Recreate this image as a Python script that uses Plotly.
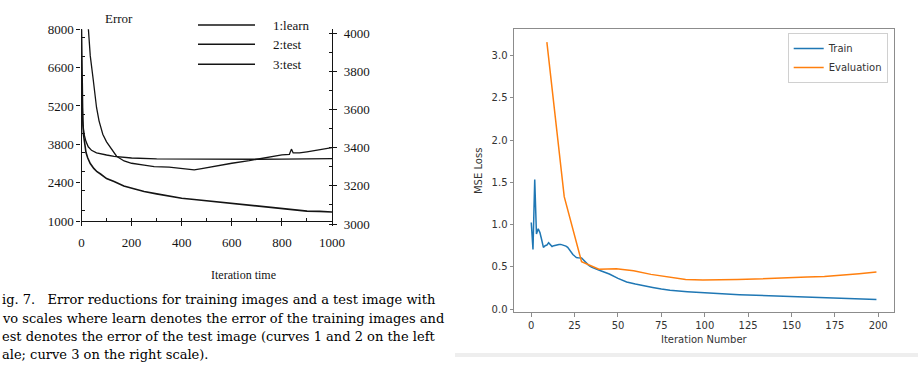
import plotly.graph_objects as go

W, H = 918, 369

# ---------------- Left (scanned) figure data ----------------
learn_iter = [0, 2, 5, 8, 12, 18, 25, 35, 49, 62, 76, 100, 130, 169, 209, 250, 300, 350, 400,
              450, 500, 550, 600, 650, 700, 750, 800, 850, 900, 950, 1000]
learn_err = [8000, 5600, 4700, 4150, 3800, 3500, 3300, 3100, 2920, 2800, 2716, 2550, 2440, 2280, 2180,
             2080, 1990, 1900, 1830, 1785, 1740, 1690, 1640, 1595, 1550, 1500, 1450, 1400, 1360, 1350, 1330]

test2_iter = [0, 3, 6, 11, 18, 27, 40, 60, 80, 100, 130, 167, 200, 300, 400, 500, 600, 700, 800, 900, 1000]
test2_err = [6000, 5000, 4500, 4140, 3900, 3710, 3580, 3490, 3440, 3410, 3360, 3325, 3300, 3270, 3260,
             3255, 3255, 3255, 3260, 3270, 3275]

test3_iter = [27, 35, 47, 60, 70, 85, 100, 120, 140, 170, 200, 250, 290, 350, 400, 450, 480, 540, 600,
              670, 740, 800, 830, 838, 845, 870, 900, 950, 1000]
test3_err = [4030, 3880, 3754, 3610, 3540, 3470, 3430, 3390, 3355, 3330, 3318, 3308, 3300, 3298, 3292,
             3283, 3290, 3305, 3318, 3332, 3350, 3362, 3365, 3392, 3372, 3372, 3378, 3388, 3400]

left_legend = ["1:learn", "2:test", "3:test"]
caption_lines = [
    "ig. 7.\u00a0\u00a0\u00a0Error reductions for training images and a test image with",
    "vo scales where learn denotes the error of the training images and",
    "est denotes the error of the test image (curves 1 and 2 on the left",
    "ale; curve 3 on the right scale).",
]

# ---------------- Right (matplotlib) figure data ----------------
train_iter = list(range(0, 36)) + [40, 45, 50, 55, 60, 65, 70, 75, 80, 90, 100, 110, 120, 130,
                                   140, 150, 160, 170, 180, 190, 199]
train_loss = [1.025, 0.705, 1.533, 0.887, 0.95, 0.905, 0.82, 0.73, 0.75, 0.757,
              0.785, 0.757, 0.74, 0.75, 0.757, 0.76, 0.765, 0.765, 0.76, 0.753,
              0.745, 0.73, 0.70, 0.674, 0.646, 0.627, 0.61, 0.607, 0.607, 0.603,
              0.583, 0.56, 0.54, 0.52, 0.505, 0.493,
              0.453, 0.414, 0.363, 0.32, 0.296, 0.272, 0.256, 0.237, 0.221, 0.205, 0.19,
              0.181, 0.17, 0.162, 0.154, 0.15, 0.142, 0.134, 0.126, 0.118, 0.114]

eval_iter = [9, 19, 29, 39, 49, 59, 69, 79, 89, 99, 109, 119, 129, 139, 149, 159, 169, 179, 189, 199]
eval_loss = [3.16, 1.33, 0.56, 0.47, 0.477, 0.453, 0.41, 0.38, 0.35, 0.343, 0.343, 0.35, 0.355,
             0.36, 0.37, 0.378, 0.386, 0.40, 0.418, 0.437]


def px(x):
    return x / W


def py(y):
    return 1 - y / H


SERIF = "Liberation Serif"
SANS = "DejaVu Sans"
INK = "#141414"

fig = go.Figure()

# left scanned chart curves
fig.add_trace(go.Scatter(x=learn_iter, y=learn_err, mode="lines", xaxis="x", yaxis="y",
                         line=dict(color=INK, width=1.6), showlegend=False, name="1:learn"))
fig.add_trace(go.Scatter(x=test2_iter, y=test2_err, mode="lines", xaxis="x", yaxis="y",
                         line=dict(color=INK, width=1.3), showlegend=False, name="2:test"))
fig.add_trace(go.Scatter(x=test3_iter, y=test3_err, mode="lines", xaxis="x3", yaxis="y2",
                         line=dict(color=INK, width=1.3), showlegend=False, name="3:test"))

# right matplotlib chart
fig.add_trace(go.Scatter(x=train_iter, y=train_loss, mode="lines", xaxis="x2", yaxis="y3",
                         line=dict(color="#1f77b4", width=1.5), name="Train"))
fig.add_trace(go.Scatter(x=eval_iter, y=eval_loss, mode="lines", xaxis="x2", yaxis="y3",
                         line=dict(color="#ff7f0e", width=1.5), name="Evaluation"))

left_dom_x = [px(81.5), px(332)]
scan_font = dict(family=SERIF, size=13, color=INK)

mpl_line = "#8c8c8c"
mpl_font = dict(family=SANS, size=10, color="#333333")

fig.update_layout(
    width=W, height=H,
    margin=dict(l=0, r=0, t=0, b=0, pad=0, autoexpand=False),
    paper_bgcolor="white", plot_bgcolor="rgba(0,0,0,0)",
    showlegend=True,
    legend=dict(x=px(887.7), y=py(33), xanchor="right", yanchor="top",
                bgcolor="white", bordercolor="#d0d0d0", borderwidth=1,
                font=dict(family=SANS, size=10, color="#333333"), itemwidth=30,
                tracegroupgap=0),
    xaxis=dict(domain=left_dom_x, range=[0, 1000], anchor="y", automargin=False,
               showline=True, linecolor=INK, linewidth=1.4, showgrid=False, zeroline=False,
               tickmode="linear", tick0=0, dtick=200, ticks="outside", ticklen=4,
               tickcolor=INK, tickwidth=1.2, tickfont=scan_font, ticklabelstandoff=5,
               minor=dict(ticks="inside", ticklen=3, dtick=100, tickcolor=INK, tickwidth=1)),
    yaxis=dict(domain=[py(221), py(29.3)], range=[1000, 8000], anchor="x", automargin=False,
               showline=True, linecolor=INK, linewidth=1.4, showgrid=False, zeroline=False,
               tickmode="linear", tick0=1000, dtick=1400, ticks="outside", ticklen=4,
               tickcolor=INK, tickwidth=1.2, tickfont=scan_font,
               minor=dict(ticks="inside", ticklen=3, dtick=700, tickcolor=INK, tickwidth=1)),
    xaxis3=dict(domain=left_dom_x, range=[0, 1000], anchor="y2", visible=False, automargin=False),
    yaxis2=dict(domain=[py(226), py(29.3)], range=[3000 - 2 / 0.191, 4000 + 3.7 / 0.191],
                anchor="x3", side="right", automargin=False,
                showline=True, linecolor=INK, linewidth=1.4, showgrid=False, zeroline=False,
                tickmode="linear", tick0=3000, dtick=200, ticks="outside", ticklen=4,
                tickcolor=INK, tickwidth=1.2, tickfont=scan_font, ticklabelstandoff=4,
                minor=dict(ticks="inside", ticklen=3, dtick=100, tickcolor=INK, tickwidth=1)),
    xaxis2=dict(domain=[px(514), px(893.7)], range=[-9.95, 208.95], anchor="y3", automargin=False,
                showline=True, mirror=True, linecolor=mpl_line, linewidth=1,
                showgrid=False, zeroline=False,
                tickmode="linear", tick0=0, dtick=25, ticks="outside", ticklen=3.5,
                tickcolor=mpl_line, tickfont=mpl_font,
                title=dict(text="Iteration Number", font=mpl_font, standoff=6)),
    yaxis3=dict(domain=[py(312.3), py(29.3)], range=[-0.039, 3.312], anchor="x2", automargin=False,
                showline=True, mirror=True, linecolor=mpl_line, linewidth=1,
                showgrid=False, zeroline=False,
                tickmode="linear", tick0=0, dtick=0.5, tickformat=".1f",
                ticks="outside", ticklen=3.5, tickcolor=mpl_line, tickfont=mpl_font,
                title=dict(text="MSE Loss", font=mpl_font, standoff=7)),
)

annotations = []
shapes = []

# "Error" label
annotations.append(dict(text="Error", x=px(103), y=py(19), xref="paper", yref="paper",
                        xanchor="left", yanchor="middle", showarrow=False,
                        font=dict(family=SERIF, size=13, color=INK)))

# left legend (hand-drawn style in the scan)
for label, yy in zip(left_legend, [25, 44.3, 64.3]):
    shapes.append(dict(type="line", xref="paper", yref="paper", x0=px(198), x1=px(255),
                       y0=py(yy), y1=py(yy), line=dict(color=INK, width=1.4)))
    annotations.append(dict(text=label, x=px(271), y=py(yy), xref="paper", yref="paper",
                            xanchor="left", yanchor="middle", showarrow=False,
                            font=dict(family=SERIF, size=13, color=INK)))

# x title of scanned chart
annotations.append(dict(text="Iteration time", x=px(243), y=py(275), xref="paper", yref="paper",
                        xanchor="center", yanchor="middle", showarrow=False,
                        font=dict(family=SERIF, size=12, color=INK)))

# caption
for line, yy in zip(caption_lines, [299, 318, 336, 354]):
    annotations.append(dict(text=line, x=0, y=py(yy), xref="paper", yref="paper",
                            xanchor="left", yanchor="middle", showarrow=False,
                            font=dict(family="DejaVu Serif", size=13, color="#000000")))

# light grey strip under right screenshot
shapes.append(dict(type="rect", xref="paper", yref="paper", x0=px(455), x1=1,
                   y0=py(357), y1=py(353), fillcolor="#eeeeee", line=dict(width=0), layer="below"))

fig.update_layout(annotations=annotations, shapes=shapes)

fig.write_html("out.html", config={"displayModeBar": False},
               post_script="document.body.style.margin='0';")
